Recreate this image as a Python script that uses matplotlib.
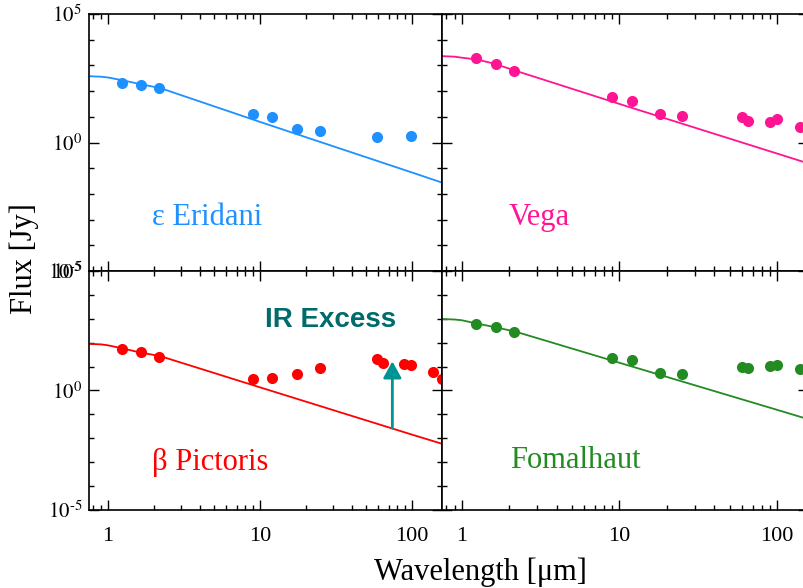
import numpy as np
import matplotlib
matplotlib.use('Agg')
import matplotlib.pyplot as plt
from matplotlib.ticker import FixedLocator, FuncFormatter, LogLocator, NullFormatter

plt.rcParams['font.family'] = ['Liberation Serif', 'DejaVu Serif']
plt.rcParams['mathtext.fontset'] = 'stix'

# photometry: wavelength [um] and log10 flux [Jy]
eri_wl = [1.24, 1.65, 2.16, 8.95, 11.9, 17.5, 24.8, 59, 98]
eri_logf = [2.32, 2.25, 2.11, 1.10, 0.98, 0.51, 0.43, 0.20, 0.27]

vega_wl = [1.24, 1.66, 2.15, 8.98, 12, 18, 25, 59.7, 65, 89.8, 100, 140]
vega_logf = [3.27, 3.05, 2.77, 1.76, 1.63, 1.09, 1.04, 0.99, 0.82, 0.78, 0.90, 0.60]

bpic_wl = [1.24, 1.65, 2.16, 8.95, 11.9, 17.5, 24.8, 58.6, 63.8, 87.7, 98, 137, 157]
bpic_logf = [1.74, 1.60, 1.42, 0.50, 0.54, 0.67, 0.96, 1.32, 1.14, 1.11, 1.05, 0.76, 0.46]

fom_wl = [1.24, 1.66, 2.15, 8.98, 12, 18, 25, 59.7, 65, 89.8, 100, 140]
fom_logf = [2.79, 2.65, 2.46, 1.36, 1.28, 0.74, 0.68, 0.97, 0.93, 1.01, 1.05, 0.90]

# stellar photosphere curves, sampled from the figure
model_wl = [0.75, 0.9, 1.0, 1.25, 1.6, 2.2, 10, 100, 157]
eri_model = [2.58, 2.56, 2.53, 2.42, 2.28, 2.12, 0.80, -1.17, -1.56]
vega_model = [3.36, 3.34, 3.30, 3.23, 3.07, 2.79, 1.50, -0.43, -0.81]
bpic_model = [1.95, 1.93, 1.89, 1.76, 1.60, 1.44, 0.13, -1.85, -2.23]
fom_model = [2.99, 2.97, 2.94, 2.80, 2.66, 2.46, 1.16, -0.81, -1.20]

# IR excess arrow for beta Pictoris: wavelength, log10 flux from / to
arrow_wl = 74
arrow_logf = [-1.58, 1.22]

stars = [
    ('ε Eridani', '#1e90ff', eri_wl, eri_logf, eri_model),
    ('Vega', '#ff1493', vega_wl, vega_logf, vega_model),
    ('β Pictoris', '#ff0000', bpic_wl, bpic_logf, bpic_model),
    ('Fomalhaut', '#228b22', fom_wl, fom_logf, fom_model),
]

fig = plt.figure(figsize=(8.04, 5.88), dpi=100)
rects = [
    [0.1107, 0.5391, 0.4391, 0.4371],
    [0.5498, 0.5391, 0.4552, 0.4371],
    [0.1107, 0.1327, 0.4391, 0.4064],
    [0.5498, 0.1327, 0.4552, 0.4064],
]
name_pos = [(0.334, 0.21), (0.265, 0.21), (0.343, 0.197), (0.363, 0.205)]


def ylab(v, pos):
    e = int(round(np.log10(v)))
    return r'$10^{\text{%d}}$' % e


axes = []
for i, (name, col, wl, logf, model) in enumerate(stars):
    ax = fig.add_axes(rects[i])
    ax.set_xscale('log')
    ax.set_yscale('log')
    ax.set_xlim(0.75, 157)
    ax.set_ylim(1e-5, 1e5)

    ax.plot(model_wl, 10 ** np.array(model), color=col, lw=1.3)
    ax.plot(wl, 10 ** np.array(logf), 'o', color=col, ms=8, mec='none')

    ax.text(name_pos[i][0], name_pos[i][1], name, color=col, fontsize=22,
            ha='center', va='center', transform=ax.transAxes)

    # ticks
    ax.xaxis.set_major_locator(FixedLocator([1, 10, 100]))
    ax.xaxis.set_minor_locator(LogLocator(base=10, subs=np.arange(2, 10), numticks=20))
    ax.xaxis.set_minor_formatter(NullFormatter())
    ax.yaxis.set_major_locator(FixedLocator([1e-5, 1e0, 1e5]))
    ax.yaxis.set_minor_locator(FixedLocator(10.0 ** np.arange(-5, 6)))
    ax.yaxis.set_minor_formatter(NullFormatter())
    ax.tick_params(which='both', direction='in', top=True, right=True, width=1.0)
    ax.tick_params(which='major', length=7)
    ax.tick_params(which='minor', length=3.5)
    ax.tick_params(axis='x', labelsize=16, pad=12)
    ax.tick_params(axis='y', labelsize=15, pad=5)

    if i < 2:
        ax.set_xticklabels([])
    else:
        ax.xaxis.set_major_formatter(FuncFormatter(lambda v, p: '%g' % v))
    if i % 2 == 1:
        ax.set_yticklabels([])
    else:
        ax.yaxis.set_major_formatter(FuncFormatter(ylab))

    for s in ax.spines.values():
        s.set_linewidth(1.2)
    axes.append(ax)

# IR excess annotation
ax = axes[2]
ax.annotate('', xy=(arrow_wl, 10 ** arrow_logf[1]), xytext=(arrow_wl, 10 ** arrow_logf[0]),
            arrowprops=dict(arrowstyle='-|>,head_width=0.55,head_length=1.0',
                            color='#009494', lw=2, mutation_scale=10,
                            shrinkA=0, shrinkB=0))
ax.text(0.683, 0.795, 'IR Excess', color='#006b6b', fontsize=20, fontweight='bold',
        family=['Liberation Sans', 'DejaVu Sans'],
        ha='center', va='center', transform=ax.transAxes)

fig.text(0.03, 0.56, 'Flux [Jy]', rotation=90, fontsize=22, ha='center', va='center')
fig.text(0.598, 0.027, 'Wavelength [μm]', fontsize=22, ha='center', va='center')

fig.savefig('out.png', dpi=100)
